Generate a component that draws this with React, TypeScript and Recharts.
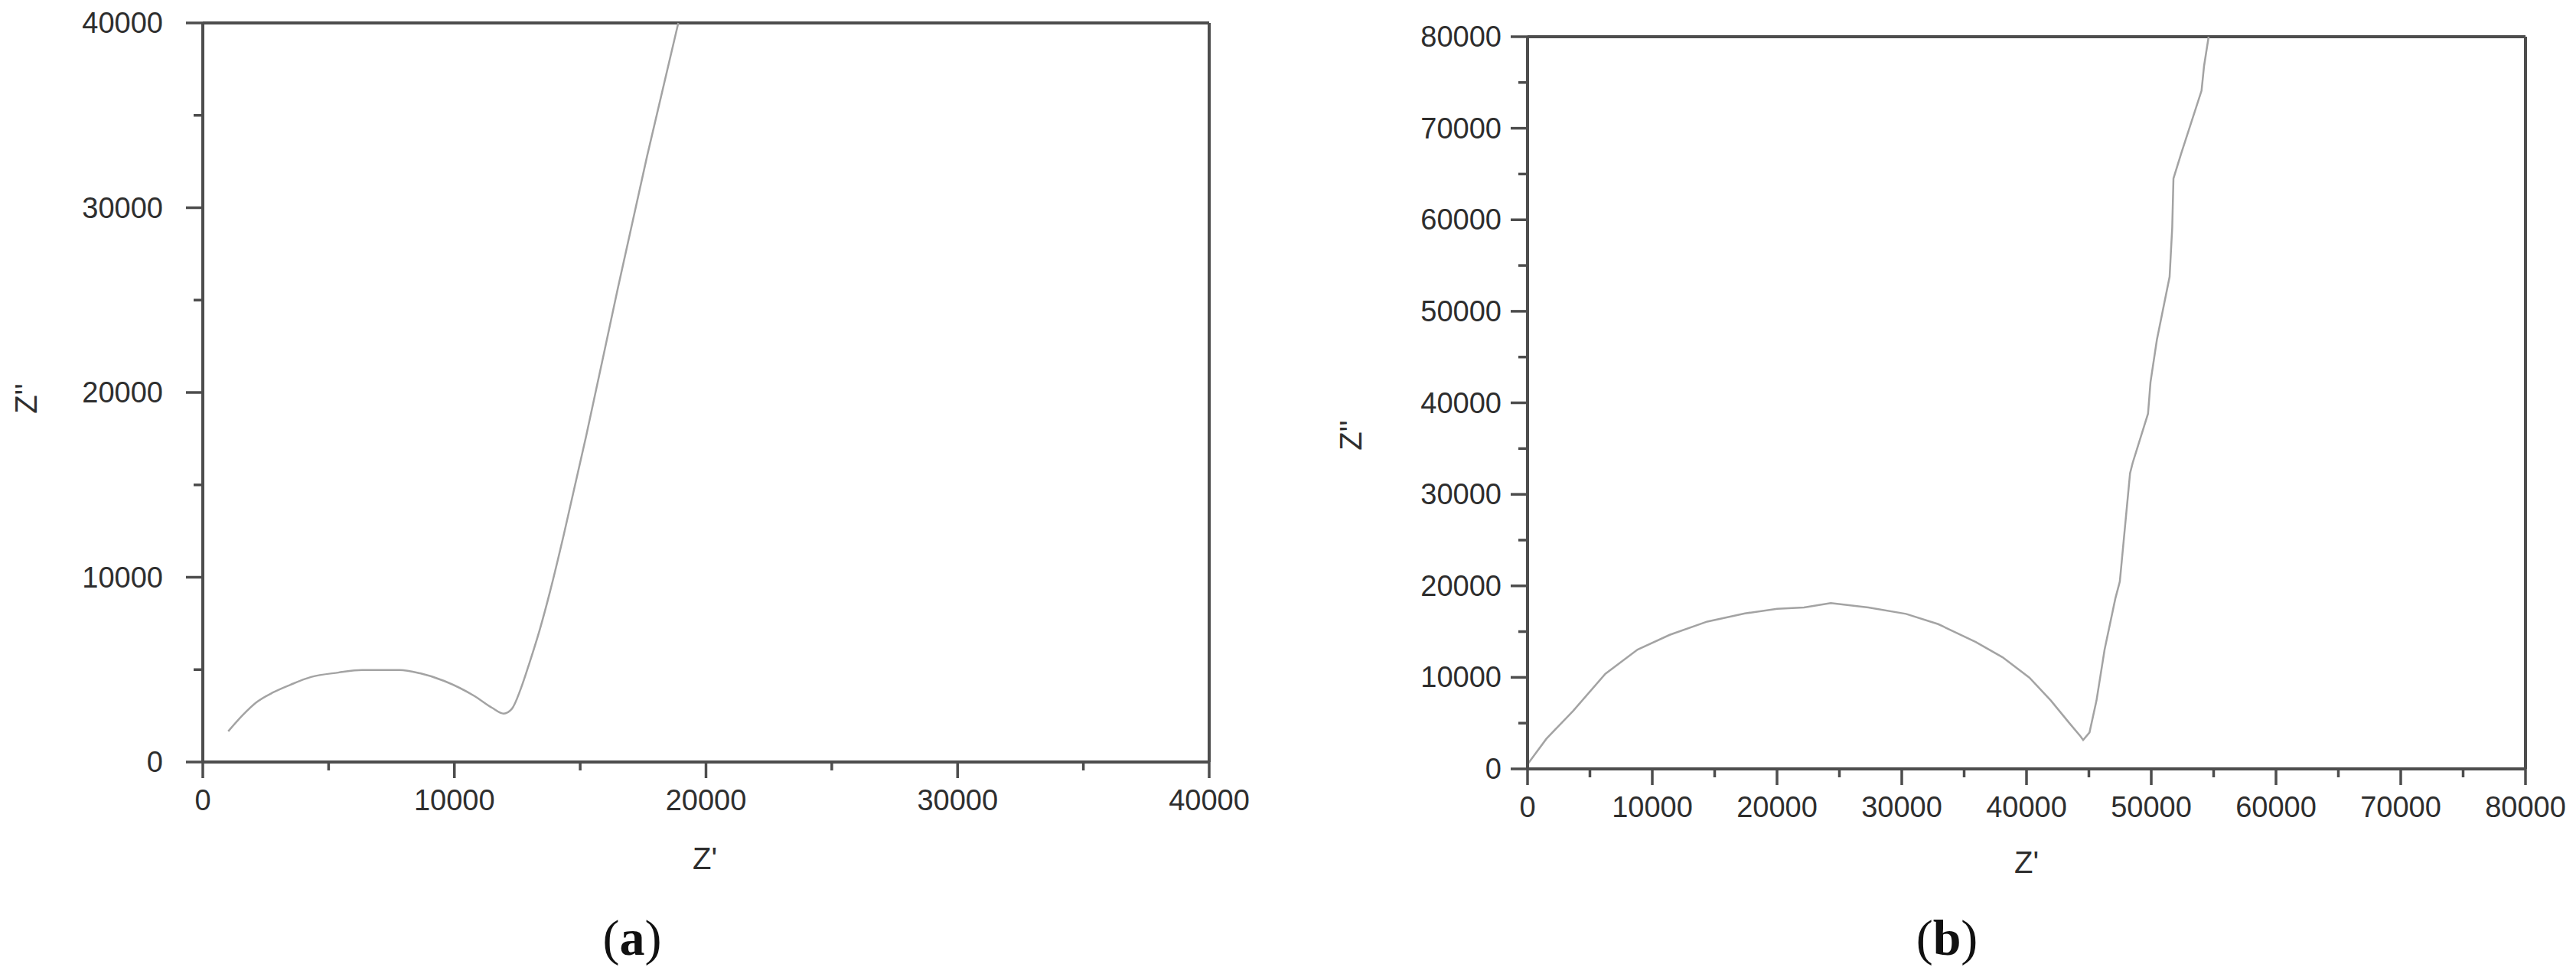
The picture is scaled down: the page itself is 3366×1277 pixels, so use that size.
import { LineChart, Line, XAxis, YAxis, ReferenceLine } from "recharts";

// Nyquist data (ohm)
const zRealA = [1010, 1580, 2120, 2800, 3480, 4300, 5380, 6330, 7820, 8640, 9590, 10810, 11490, 11960, 12280, 12640, 12980, 13390, 13800, 14340, 15230, 16490, 17660, 18900];
const zImagA = [1660, 2530, 3220, 3770, 4180, 4600, 4840, 4980, 4980, 4800, 4390, 3560, 2940, 2620, 2870, 3970, 5350, 7150, 9220, 12260, 17600, 25600, 32800, 40000];

const zRealB = [0, 1510, 3660, 6240, 8820, 11400, 14410, 17430, 20010, 22160, 24310, 27320, 30340, 32920, 35930, 38080, 40230, 41950, 43460, 44320, 44540, 45050, 45610, 46260, 47120, 47480, 48300, 48510, 49740, 49940, 50450, 51470, 51680, 51780, 52390, 54030, 54230, 54600];
const zImagB = [500, 3290, 6350, 10390, 13040, 14650, 16100, 16990, 17490, 17630, 18110, 17630, 16940, 15820, 13870, 12200, 9970, 7470, 4960, 3570, 3150, 3980, 7470, 13040, 18610, 20470, 32290, 33440, 38810, 42270, 46870, 53770, 59140, 64510, 67190, 74100, 76780, 80000];

// ticks every 5000, labels on the 10000s
const ticksA = [0, 5000, 10000, 15000, 20000, 25000, 30000, 35000, 40000];
const ticksB = [0, 5000, 10000, 15000, 20000, 25000, 30000, 35000, 40000, 45000, 50000, 55000, 60000, 65000, 70000, 75000, 80000];
const labelStep = 10000;

const AXIS = "#4d4d4d";
const TEXT = "#2e2e2e";
const CURVE = "#a3a3a3";
const SANS = '"Liberation Sans", Arial, sans-serif';
const SERIF = '"Liberation Serif", "Times New Roman", serif';

// default axis footprint in recharts
const Y_W = 60;
const X_H = 30;

const toPoints = (xs: number[], ys: number[]) => xs.map((x, i) => ({ x, y: ys[i] }));

function makeXTick(labelDy: number) {
  return (props: any) => {
    const { x, y, payload } = props;
    const major = payload.value % labelStep === 0;
    return (
      <g>
        <line x1={x} x2={x} y1={y} y2={y + (major ? 21 : 11)} stroke={AXIS} strokeWidth={3.5} />
        {major && (
          <text x={x} y={y + labelDy} textAnchor="middle" dominantBaseline="central" fill={TEXT} fontSize={38} fontFamily={SANS}>
            {payload.value}
          </text>
        )}
      </g>
    );
  };
}

function makeYTick(labelGap: number) {
  return (props: any) => {
    const { x, y, payload } = props;
    const major = payload.value % labelStep === 0;
    return (
      <g>
        <line x1={x} x2={x - (major ? 22 : 12)} y1={y} y2={y} stroke={AXIS} strokeWidth={3.5} />
        {major && (
          <text x={x - labelGap} y={y} textAnchor="end" dominantBaseline="central" fill={TEXT} fontSize={38} fontFamily={SANS}>
            {payload.value}
          </text>
        )}
      </g>
    );
  };
}

interface PanelProps {
  data: Array<{ x: number; y: number }>;
  max: [number, number];
  xTicks: number[];
  yTicks: number[];
  width: number;
  margin: { top: number; right: number; bottom: number; left: number };
  yLabelGap: number;
  curve: "monotone" | "linear";
}

function Panel({ data, max, xTicks, yTicks, width, margin, yLabelGap, curve }: PanelProps) {
  return (
    <LineChart width={width} height={1277} data={data} margin={margin}>
      <XAxis
        type="number"
        dataKey="x"
        domain={[0, max[0]]}
        ticks={xTicks}
        interval={0}
        height={X_H}
        tickSize={0}
        tickMargin={0}
        tickLine={false}
        axisLine={{ stroke: AXIS, strokeWidth: 4 }}
        tick={makeXTick(50)}
      />
      <YAxis
        type="number"
        dataKey="y"
        domain={[0, max[1]]}
        ticks={yTicks}
        interval={0}
        width={Y_W}
        tickSize={0}
        tickMargin={0}
        tickLine={false}
        axisLine={{ stroke: AXIS, strokeWidth: 4 }}
        tick={makeYTick(yLabelGap)}
      />
      <ReferenceLine y={max[1]} stroke={AXIS} strokeWidth={4} />
      <ReferenceLine x={max[0]} stroke={AXIS} strokeWidth={4} />
      <Line
        type={curve}
        dataKey="y"
        stroke={CURVE}
        strokeWidth={2.5}
        dot={false}
        activeDot={false}
        isAnimationActive={false}
      />
    </LineChart>
  );
}

const abs = (left: number, top: number, extra: React.CSSProperties = {}): React.CSSProperties => ({
  position: "absolute",
  left,
  top,
  transform: "translate(-50%, -50%)",
  whiteSpace: "nowrap",
  lineHeight: 1,
  ...extra,
});

export default function App() {
  const axisTitle: React.CSSProperties = { fontFamily: SANS, fontSize: 40, color: TEXT };
  const caption: React.CSSProperties = { fontFamily: SERIF, fontSize: 66, color: "#111" };
  return (
    <div style={{ position: "absolute", left: 0, top: 0, width: 3366, height: 1277, background: "#fff", overflow: "hidden" }}>
      <div style={{ position: "absolute", left: 0, top: 0 }}>
        <Panel
          data={toPoints(zRealA, zImagA)}
          max={[40000, 40000]}
          xTicks={ticksA}
          yTicks={ticksA}
          width={1700}
          margin={{ top: 30, right: 120, bottom: 1277 - 996 - X_H, left: 265 - Y_W }}
          yLabelGap={52}
          curve="monotone"
        />
      </div>
      <div style={{ position: "absolute", left: 1700, top: 0 }}>
        <Panel
          data={toPoints(zRealB, zImagB)}
          max={[80000, 80000]}
          xTicks={ticksB}
          yTicks={ticksB}
          width={1666}
          margin={{ top: 48, right: 66, bottom: 1277 - 1005 - X_H, left: 296 - Y_W }}
          yLabelGap={34}
          curve="linear"
        />
      </div>

      <div style={abs(34, 521, { ...axisTitle, transform: "translate(-50%, -50%) rotate(-90deg)" })}>Z''</div>
      <div style={abs(921, 1122, axisTitle)}>Z'</div>
      <div style={abs(1765, 569, { ...axisTitle, transform: "translate(-50%, -50%) rotate(-90deg)" })}>Z''</div>
      <div style={abs(2648, 1127, axisTitle)}>Z'</div>

      <div style={abs(826, 1226, caption)}>
        (<b>a</b>)
      </div>
      <div style={abs(2544, 1226, caption)}>
        (<b>b</b>)
      </div>
    </div>
  );
}
